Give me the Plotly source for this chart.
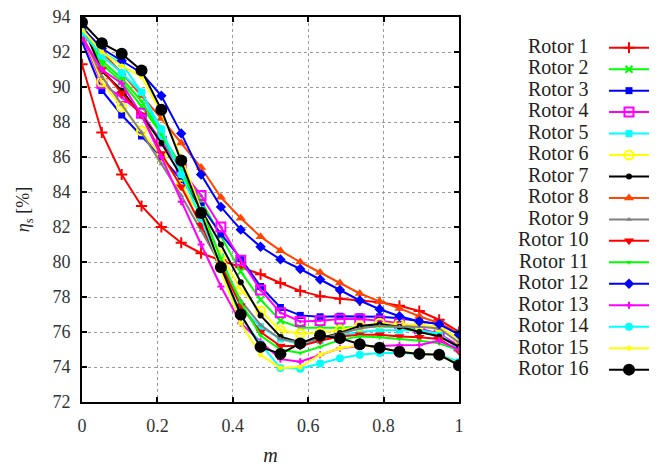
import plotly.graph_objects as go

m = [0.0, 0.0526, 0.1053, 0.1579, 0.2105, 0.2632, 0.3158, 0.3684, 0.4211, 0.4737,
     0.5263, 0.5789, 0.6316, 0.6842, 0.7368, 0.7895, 0.8421, 0.8947, 0.9474, 1.0]

rotor_1 = [91.3, 87.4, 85.0, 83.2, 82.0, 81.1, 80.5, 80.1, 79.7, 79.3, 78.8, 78.35, 78.05, 77.9, 77.8, 77.7, 77.5, 77.2, 76.7, 76.0]
rotor_2 = [93.4, 91.3, 90.3, 88.9, 87.3, 85.5, 83.5, 81.5, 79.45, 77.85, 76.65, 76.25, 76.25, 76.25, 76.3, 76.3, 76.3, 76.1, 75.8, 75.2]
rotor_3 = [92.6, 89.8, 88.4, 87.2, 86.0, 84.7, 83.2, 81.6, 80.2, 78.6, 77.4, 76.95, 76.87, 76.9, 76.87, 76.87, 76.78, 76.6, 76.45, 75.93]
rotor_4 = [92.9, 90.2, 89.4, 88.5, 86.9, 85.3, 83.8, 82.0, 80.1, 78.4, 77.1, 76.6, 76.65, 76.75, 76.75, 76.65, 76.5, 76.2, 75.9, 75.2]
rotor_5 = [93.3, 92.0, 91.35, 89.7, 87.2, 85.2, 83.0, 80.3, 77.4, 76.3, 75.6, 75.3, 75.5, 75.8, 76.0, 76.1, 76.1, 76.1, 75.9, 75.0]
rotor_6 = [93.1, 90.3, 88.85, 87.5, 86.0, 84.4, 82.6, 80.4, 78.45, 77.2, 76.1, 75.9, 75.95, 76.1, 76.35, 76.5, 76.45, 76.4, 76.3, 75.6]
rotor_7 = [93.6, 90.9, 89.8, 88.4, 86.8, 84.9, 83.0, 81.0, 78.85, 76.95, 75.73, 75.4, 75.65, 75.95, 76.35, 76.45, 76.3, 76.0, 75.75, 75.15]
rotor_8 = [93.4, 92.0, 90.8, 89.5, 88.2, 86.8, 85.4, 83.7, 82.5, 81.45, 80.65, 80.0, 79.4, 78.8, 78.2, 77.75, 77.35, 76.9, 76.5, 75.95]
rotor_9 = [93.0, 90.6, 89.0, 87.4, 85.6, 83.8, 81.8, 79.8, 77.8, 76.4, 75.6, 75.4, 75.6, 75.9, 76.2, 76.35, 76.3, 76.3, 76.2, 75.4]
rotor_10 = [92.8, 91.0, 89.65, 88.4, 86.2, 84.3, 82.1, 79.8, 77.5, 76.0, 75.2, 75.2, 75.5, 75.75, 75.85, 75.85, 75.75, 75.7, 75.6, 74.9]
rotor_11 = [93.5, 91.5, 90.5, 89.2, 87.3, 85.2, 83.0, 80.2, 77.7, 75.8, 75.0, 74.8, 75.15, 75.55, 75.75, 75.7, 75.6, 75.5, 75.35, 74.95]
rotor_12 = [93.4, 92.2, 91.5, 90.8, 89.5, 87.35, 85.0, 83.15, 81.85, 80.87, 80.15, 79.6, 79.0, 78.4, 77.8, 77.3, 76.9, 76.6, 76.45, 75.85]
rotor_13 = [92.8, 91.0, 90.2, 88.4, 86.0, 83.45, 81.0, 78.6, 76.5, 75.45, 74.45, 74.3, 74.7, 75.07, 75.2, 75.2, 75.25, 75.26, 75.5, 75.0]
rotor_14 = [93.1, 91.8, 90.8, 89.7, 87.6, 85.0, 82.5, 79.6, 76.9, 75.3, 73.95, 73.9, 74.2, 74.5, 74.7, 74.8, 74.8, 74.75, 74.7, 74.3]
rotor_15 = [93.3, 92.0, 91.2, 90.6, 88.5, 86.0, 83.0, 79.5, 76.5, 74.7, 73.95, 74.0, 74.7, 75.07, 75.26, 75.1, 74.9, 74.75, 74.7, 74.15]
rotor_16 = [93.7, 92.5, 91.9, 90.95, 88.7, 85.8, 82.8, 79.7, 77.0, 75.15, 74.75, 75.35, 75.8, 75.65, 75.3, 75.1, 74.87, 74.75, 74.7, 74.1]

labels = ["Rotor %d" % i for i in range(1, 17)]
series = [rotor_1, rotor_2, rotor_3, rotor_4, rotor_5, rotor_6, rotor_7, rotor_8,
          rotor_9, rotor_10, rotor_11, rotor_12, rotor_13, rotor_14, rotor_15, rotor_16]

y_ticks = [72, 74, 76, 78, 80, 82, 84, 86, 88, 90, 92, 94]
x_ticks = [0, 0.2, 0.4, 0.6, 0.8, 1]
x_tick_text = ["0", "0.2", "0.4", "0.6", "0.8", "1"]

styles = [
    ("#FF0000", "cross-thin", 8),
    ("#00FF00", "x-thin", 7),
    ("#0000FF", "square", 7),
    ("#FF00FF", "square-open-dot", 9),
    ("#00FFFF", "square", 7),
    ("#FFFF00", "circle-open-dot", 9),
    ("#000000", "circle", 6),
    ("#FF4500", "triangle-up", 9),
    ("#808080", "triangle-up", 5),
    ("#FF0000", "triangle-down", 9),
    ("#00FF00", "triangle-down", 5),
    ("#0000FF", "diamond", 8),
    ("#FF00FF", "cross-thin", 5),
    ("#00FFFF", "circle", 8),
    ("#FFFF00", "circle", 5),
    ("#000000", "circle", 12),
]

fig = go.Figure()
for lab, ys, (col, sym, sz) in zip(labels, series, styles):
    marker = dict(symbol=sym, size=sz, color=col)
    if sym.endswith("thin") or sym.endswith("open-dot"):
        marker["line"] = dict(color=col, width=2)
    fig.add_trace(go.Scatter(
        x=m, y=ys, mode="lines+markers", name=" ",
        line=dict(color=col, width=2),
        marker=marker,
        hovertemplate=lab + "<br>m=%{x}<br>η=%{y}<extra></extra>",
    ))

# plot area in pixels: x 82..459, y 17..402
W, H = 670, 466
L, R, T, B = 82, 459, 17, 402
row0, row_h = 46, 21.47
annotations = []
for i, lab in enumerate(labels):
    ypx = row0 + row_h * i
    annotations.append(dict(
        text=lab, xref="paper", yref="paper",
        x=(591 - L) / (R - L), y=(B - ypx) / (B - T),
        xanchor="right", yanchor="middle", showarrow=False,
        font=dict(family="Liberation Serif", size=20, color="#222"),
    ))

axis_common = dict(
    showline=True, linecolor="black", linewidth=2, mirror="allticks",
    ticks="inside", ticklen=5, tickwidth=2, tickcolor="black",
    showgrid=True, gridcolor="#9a9a9a", griddash="dot", gridwidth=1,
    zeroline=False, automargin=False, ticklabelstandoff=6,
    tickfont=dict(family="Liberation Serif", size=18, color="#333"),
)

fig.update_layout(
    width=W, height=H,
    margin=dict(l=L, r=W - R, t=T, b=H - B, autoexpand=False),
    paper_bgcolor="white", plot_bgcolor="white",
    font=dict(family="Liberation Serif", size=16, color="#222"),
    showlegend=True,
    legend=dict(
        x=(604 - L) / (R - L), y=(B - 32) / (B - T),
        xanchor="left", yanchor="top",
        font=dict(family="Liberation Serif", size=14.2),
        bgcolor="rgba(0,0,0,0)", itemwidth=40, tracegroupgap=0,
    ),
    annotations=annotations,
    xaxis=dict(axis_common, range=[0, 1], tickvals=x_ticks, ticktext=x_tick_text,
               title=dict(text="<i>m</i>", standoff=14,
                          font=dict(family="Liberation Serif", size=20))),
    yaxis=dict(axis_common, range=[72, 94], tickvals=y_ticks,
               title=dict(text="<i>η<sub>s</sub></i> [%]", standoff=18,
                          font=dict(family="Liberation Serif", size=18))),
)

fig.write_html("out.html", config={"displayModeBar": False},
               post_script="document.body.style.margin='0';")
